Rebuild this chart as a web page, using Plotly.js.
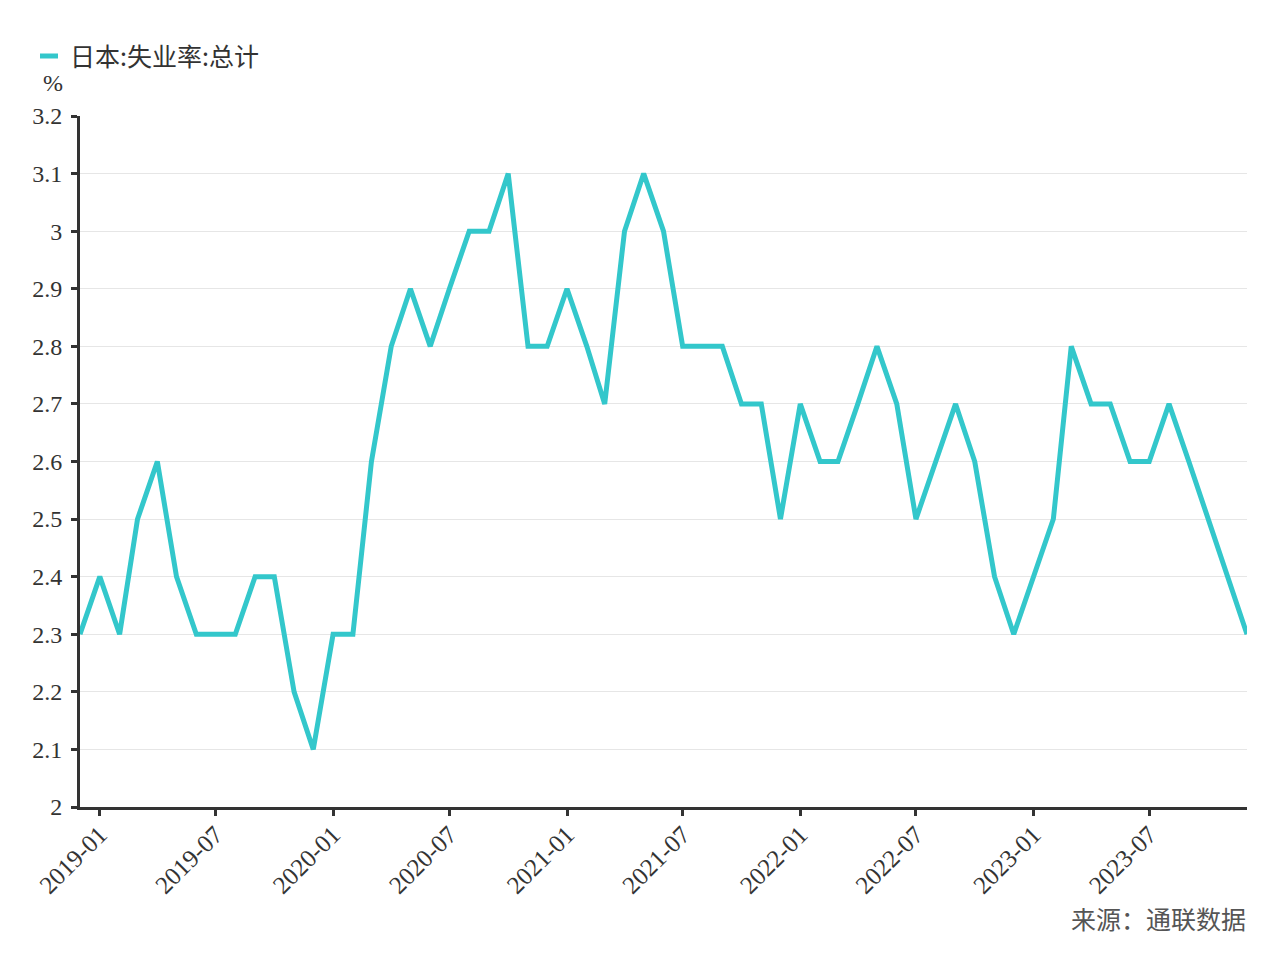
<!DOCTYPE html>
<html>
<head>
<meta charset="utf-8">
<script src="https://cdn.plot.ly/plotly-3.0.1.min.js"></script>
<style>html,body{margin:0;padding:0;background:#fff;}#chart{width:1280px;height:960px;}</style>
</head>
<body>
<div id="chart"></div>
<script>
const months = ["2018-12","2019-01","2019-02","2019-03","2019-04","2019-05","2019-06","2019-07","2019-08","2019-09","2019-10","2019-11","2019-12",
"2020-01","2020-02","2020-03","2020-04","2020-05","2020-06","2020-07","2020-08","2020-09","2020-10","2020-11","2020-12",
"2021-01","2021-02","2021-03","2021-04","2021-05","2021-06","2021-07","2021-08","2021-09","2021-10","2021-11","2021-12",
"2022-01","2022-02","2022-03","2022-04","2022-05","2022-06","2022-07","2022-08","2022-09","2022-10","2022-11","2022-12",
"2023-01","2023-02","2023-03","2023-04","2023-05","2023-06","2023-07","2023-08","2023-09","2023-10","2023-11","2023-12"];
const unemployment = [2.3,2.4,2.3,2.5,2.6,2.4,2.3,2.3,2.3,2.4,2.4,2.2,2.1,
2.3,2.3,2.6,2.8,2.9,2.8,2.9,3.0,3.0,3.1,2.8,2.8,
2.9,2.8,2.7,3.0,3.1,3.0,2.8,2.8,2.8,2.7,2.7,2.5,
2.7,2.6,2.6,2.7,2.8,2.7,2.5,2.6,2.7,2.6,2.4,2.3,
2.4,2.5,2.8,2.7,2.7,2.6,2.6,2.7,2.6,2.5,2.4,2.3];
const seriesName = "日本:失业率:总计";
const yTicks = [2,2.1,2.2,2.3,2.4,2.5,2.6,2.7,2.8,2.9,3,3.1,3.2];
const yTickText = ["2","2.1","2.2","2.3","2.4","2.5","2.6","2.7","2.8","2.9","3","3.1","3.2"];

const LINE_COLOR = "#33C7CB";
const SERIF = "Liberation Serif";
const CJK = "Noto Sans CJK SC";
const L = 80, R = 33, T = 116, B = 153, W = 1280, H = 960;
const PW = W - L - R, PH = H - T - B;
const px = v => (v - L) / PW;
const py = v => (H - B - v) / PH;

const trace = {
  x: months.map(m => m + "-01"),
  y: unemployment,
  type: "scatter",
  mode: "lines",
  name: seriesName,
  line: {color: LINE_COLOR, width: 5}
};
const layout = {
  width: W, height: H,
  margin: {l: L, r: R, t: T, b: B},
  paper_bgcolor: "#fff", plot_bgcolor: "#fff",
  font: {family: SERIF, size: 24, color: "#333"},
  showlegend: false,
  xaxis: {
    type: "date",
    range: ["2018-12-01", "2023-12-01"],
    tick0: "2019-01-01", dtick: "M6", tickformat: "%Y-%m",
    tickangle: -45,
    ticks: "outside", ticklen: 6, tickwidth: 3, tickcolor: "#333",
    ticklabelstandoff: -6,
    showline: true, linecolor: "#333", linewidth: 3,
    showgrid: false, zeroline: false,
    tickfont: {family: SERIF, size: 25, color: "#333"}
  },
  yaxis: {
    range: [2, 3.2],
    tickvals: yTicks, ticktext: yTickText,
    ticks: "outside", ticklen: 6, tickwidth: 3, tickcolor: "#333",
    ticklabelstandoff: 4,
    showline: true, linecolor: "#333", linewidth: 3,
    showgrid: true, gridcolor: "#e6e6e6", gridwidth: 1,
    zeroline: false,
    tickfont: {family: SERIF, size: 24, color: "#333"}
  },
  shapes: [
    {type: "line", xref: "paper", yref: "paper", x0: px(40), x1: px(58), y0: py(56), y1: py(56),
     line: {color: LINE_COLOR, width: 5}}
  ],
  annotations: [
    {text: seriesName, xref: "paper", yref: "paper", x: px(68), y: py(55), xanchor: "left", yanchor: "middle",
     showarrow: false, font: {family: CJK, size: 25, color: "#333"}},
    {text: "%", xref: "paper", yref: "paper", x: px(53), y: py(83), xanchor: "center", yanchor: "middle",
     showarrow: false, font: {family: SERIF, size: 24, color: "#333"}},
    {text: "来源：通联数据", xref: "paper", yref: "paper", x: px(1248), y: py(918), xanchor: "right", yanchor: "middle",
     showarrow: false, font: {family: CJK, size: 25, color: "#555"}}
  ]
};
Plotly.newPlot("chart", [trace], layout, {displayModeBar: false, staticPlot: true});
</script>
</body>
</html>
